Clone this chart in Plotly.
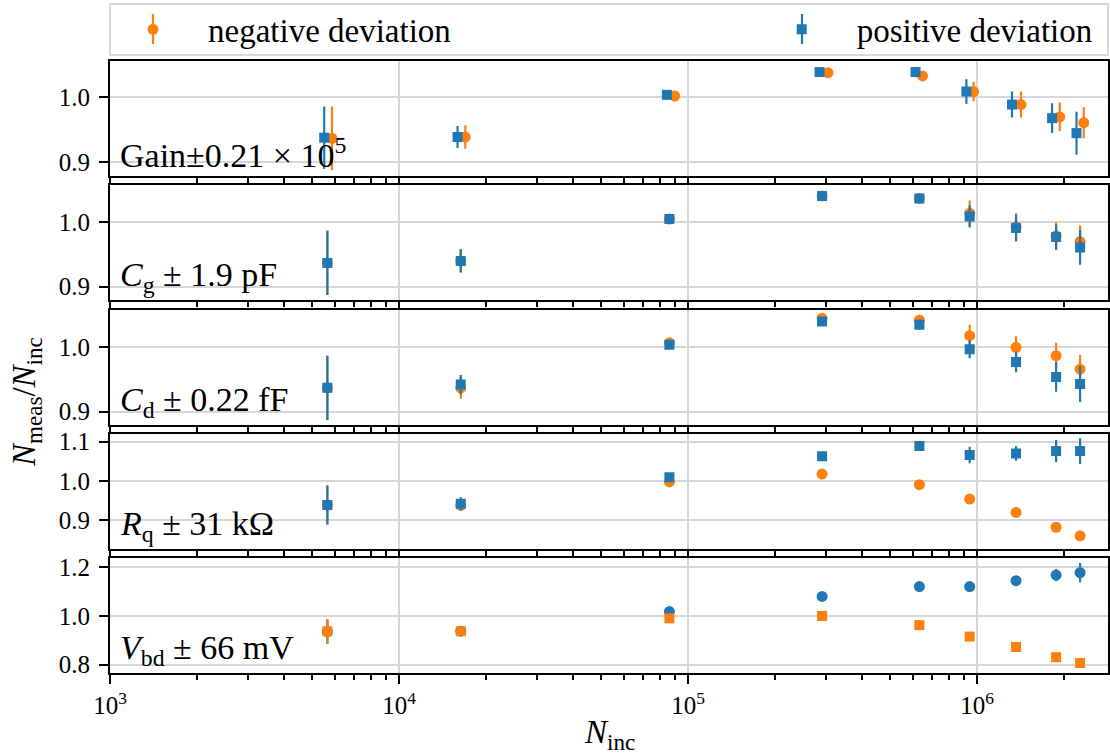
import plotly.graph_objects as go
from plotly.subplots import make_subplots

BLUE = '#1f77b4'
ORANGE = '#ff7f0e'
FONT = 'Liberation Serif'

# N_inc of the measurement points
n_inc = [5650, 16350, 86200, 290900, 631500, 942800, 1.364e6, 1.877e6, 2.272e6]
# gain panel: N_inc shifts with the gain
n_inc_gain_pos = [5510, 15940, 84450, 285100, 612500, 918500, 1.321e6, 1.818e6, 2.208e6]
n_inc_gain_neg = [5862, 16950, 89950, 304800, 647500, 972500, 1.419e6, 1.932e6, 2.339e6]

gain_neg = [0.937, 0.939, 1.002, 1.038, 1.033, 1.009, 0.989, 0.970, 0.961]
gain_neg_err = [0.049, 0.018, 0.006, 0.006, 0.007, 0.015, 0.020, 0.022, 0.024]
gain_pos = [0.938, 0.939, 1.004, 1.039, 1.039, 1.009, 0.989, 0.968, 0.945]
gain_pos_err = [0.048, 0.017, 0.007, 0.007, 0.008, 0.019, 0.020, 0.023, 0.033]

cg_neg = [0.937, 0.940, 1.005, 1.041, 1.037, 1.014, 0.993, 0.979, 0.970]
cg_neg_err = [0.050, 0.018, 0.006, 0.007, 0.007, 0.020, 0.021, 0.021, 0.025]
cg_pos = [0.937, 0.940, 1.005, 1.041, 1.037, 1.009, 0.991, 0.977, 0.961]
cg_pos_err = [0.050, 0.018, 0.006, 0.007, 0.007, 0.017, 0.021, 0.020, 0.027]

cd_neg = [0.937, 0.937, 1.007, 1.045, 1.042, 1.018, 1.000, 0.987, 0.966]
cd_neg_err = [0.050, 0.017, 0.006, 0.006, 0.006, 0.017, 0.017, 0.020, 0.022]
cd_pos = [0.937, 0.942, 1.004, 1.040, 1.035, 0.997, 0.977, 0.954, 0.943]
cd_pos_err = [0.050, 0.015, 0.006, 0.005, 0.008, 0.014, 0.016, 0.023, 0.028]

rq_neg = [0.938, 0.937, 0.997, 1.017, 0.990, 0.953, 0.919, 0.881, 0.859]
rq_neg_err = [0.050, 0.006, 0.004, 0.004, 0.004, 0.004, 0.004, 0.004, 0.006]
rq_pos = [0.938, 0.941, 1.009, 1.063, 1.089, 1.066, 1.070, 1.076, 1.076]
rq_pos_err = [0.050, 0.017, 0.010, 0.006, 0.006, 0.021, 0.019, 0.028, 0.033]

vbd_up = [0.935, 0.937, 1.018, 1.080, 1.121, 1.121, 1.145, 1.168, 1.178]
vbd_up_err = [0.050, 0.006, 0.008, 0.006, 0.006, 0.006, 0.012, 0.025, 0.040]
vbd_down = [0.937, 0.937, 0.990, 1.000, 0.962, 0.915, 0.872, 0.830, 0.806]
vbd_down_err = [0.050, 0.014, 0.006, 0.006, 0.006, 0.005, 0.004, 0.004, 0.005]

panel_labels = ['Gain±0.21 × 10<sup>5</sup>',
                '<i>C</i><sub>g</sub> ± 1.9 pF',
                '<i>C</i><sub>d</sub> ± 0.22 fF',
                '<i>R</i><sub>q</sub> ± 31 kΩ',
                '<i>V</i><sub>bd</sub> ± 66 mV']
y_ranges = [[0.879, 1.056], [0.879, 1.0575], [0.880, 1.0587], [0.826, 1.1203], [0.765, 1.2384]]
y_ticks = [[0.9, 1.0], [0.9, 1.0], [0.9, 1.0], [0.9, 1.0, 1.1], [0.8, 1.0, 1.2]]

x_tickvals = [1e3, 1e4, 1e5, 1e6]
x_ticktext = ['10<sup>3</sup>', '10<sup>4</sup>', '10<sup>5</sup>', '10<sup>6</sup>']
x_minor = [m * 10 ** e for e in range(3, 7) for m in range(2, 10)]


def add_points(fig, row, x, y, err, color, symbol, name=None, legend='legend'):
    fig.add_trace(go.Scatter(
        x=x, y=y, mode='markers', name=name, showlegend=name is not None, legend=legend,
        marker=dict(color=color, symbol=symbol, size=10 if symbol == 'square' else 11),
        error_y=dict(type='data', array=err, color=color, thickness=2.2, width=0)),
        row=row, col=1)


fig = make_subplots(rows=5, cols=1, shared_xaxes=True, vertical_spacing=9.25 / 612)

add_points(fig, 1, n_inc_gain_neg, gain_neg, gain_neg_err, ORANGE, 'circle', 'negative deviation')
add_points(fig, 1, n_inc_gain_pos, gain_pos, gain_pos_err, BLUE, 'square', 'positive deviation', 'legend2')
add_points(fig, 2, n_inc, cg_neg, cg_neg_err, ORANGE, 'circle')
add_points(fig, 2, n_inc, cg_pos, cg_pos_err, BLUE, 'square')
add_points(fig, 3, n_inc, cd_neg, cd_neg_err, ORANGE, 'circle')
add_points(fig, 3, n_inc, cd_pos, cd_pos_err, BLUE, 'square')
add_points(fig, 4, n_inc, rq_neg, rq_neg_err, ORANGE, 'circle')
add_points(fig, 4, n_inc, rq_pos, rq_pos_err, BLUE, 'square')
add_points(fig, 5, n_inc, vbd_up, vbd_up_err, BLUE, 'circle')
add_points(fig, 5, n_inc, vbd_down, vbd_down_err, ORANGE, 'square')

for i in range(5):
    row = i + 1
    fig.update_xaxes(
        type='log', range=[3, 6.453], tickvals=x_tickvals, ticktext=x_ticktext, automargin=False,
        showline=True, mirror=True, linecolor='black', linewidth=2,
        ticks='outside', ticklen=9 if row == 5 else 7, tickwidth=2, tickcolor='black',
        showgrid=True, gridcolor='#d6d6d6', gridwidth=1.5, zeroline=False,
        minor=dict(tickvals=x_minor, ticks='outside', ticklen=5, tickwidth=1.5,
                   tickcolor='black', showgrid=False),
        tickfont=dict(family=FONT, size=25, color='black'),
        row=row, col=1)
    fig.update_yaxes(
        range=y_ranges[i], tickvals=y_ticks[i], ticktext=[f'{v:.1f}' for v in y_ticks[i]],
        automargin=False,
        showline=True, mirror=True, linecolor='black', linewidth=2,
        ticks='outside', ticklen=9, tickwidth=2, tickcolor='black', ticklabelstandoff=4,
        showgrid=True, gridcolor='#d6d6d6', gridwidth=1.5, zeroline=False,
        tickfont=dict(family=FONT, size=25, color='black'),
        row=row, col=1)
    yref = 'y domain' if row == 1 else f'y{row} domain'
    xref = 'x domain' if row == 1 else f'x{row} domain'
    fig.add_annotation(
        text=panel_labels[i], x=0.008, y=0.0, xref=xref, yref=yref,
        xanchor='left', yanchor='bottom', showarrow=False,
        font=dict(family=FONT, size=34, color='black'))

fig.add_annotation(
    text='<i>N</i><sub>meas</sub>/<i>N</i><sub>inc</sub>', textangle=-90,
    x=-0.083, y=0.443, xref='paper', yref='paper', xanchor='center', yanchor='middle',
    showarrow=False, font=dict(family=FONT, size=33, color='black'))
fig.add_annotation(
    text='<i>N</i><sub>inc</sub>', x=0.5, y=-0.1, xref='paper', yref='paper',
    xanchor='center', yanchor='middle', showarrow=False,
    font=dict(family=FONT, size=33, color='black'))

# legend frame
fig.add_shape(type='rect', xref='paper', yref='paper', x0=0, x1=1, y0=1.0098, y1=1.0933,
              line=dict(color='#cccccc', width=1.5), fillcolor='white', layer='below')
# error bar stroke of the legend handles
for lx, col in [(0.0431, ORANGE), (0.6934, BLUE)]:
    fig.add_shape(type='line', xref='paper', yref='paper', x0=lx, x1=lx, y0=1.0278, y1=1.0768,
                  line=dict(color=col, width=2.2))

legend_style = dict(orientation='h', xanchor='left', yref='container', y=0.961, yanchor='middle',
                    bgcolor='rgba(0,0,0,0)', itemwidth=100,
                    font=dict(family=FONT, size=33, color='black'))
fig.update_layout(
    width=1110, height=754,
    margin=dict(l=110, r=2, t=61, b=81),
    paper_bgcolor='white', plot_bgcolor='white',
    showlegend=True,
    legend=dict(legend_style, x=-0.012),
    legend2=dict(legend_style, x=0.638),
)

fig.write_html('out.html', config={'displayModeBar': False},
               post_script="document.body.style.margin='0';")
